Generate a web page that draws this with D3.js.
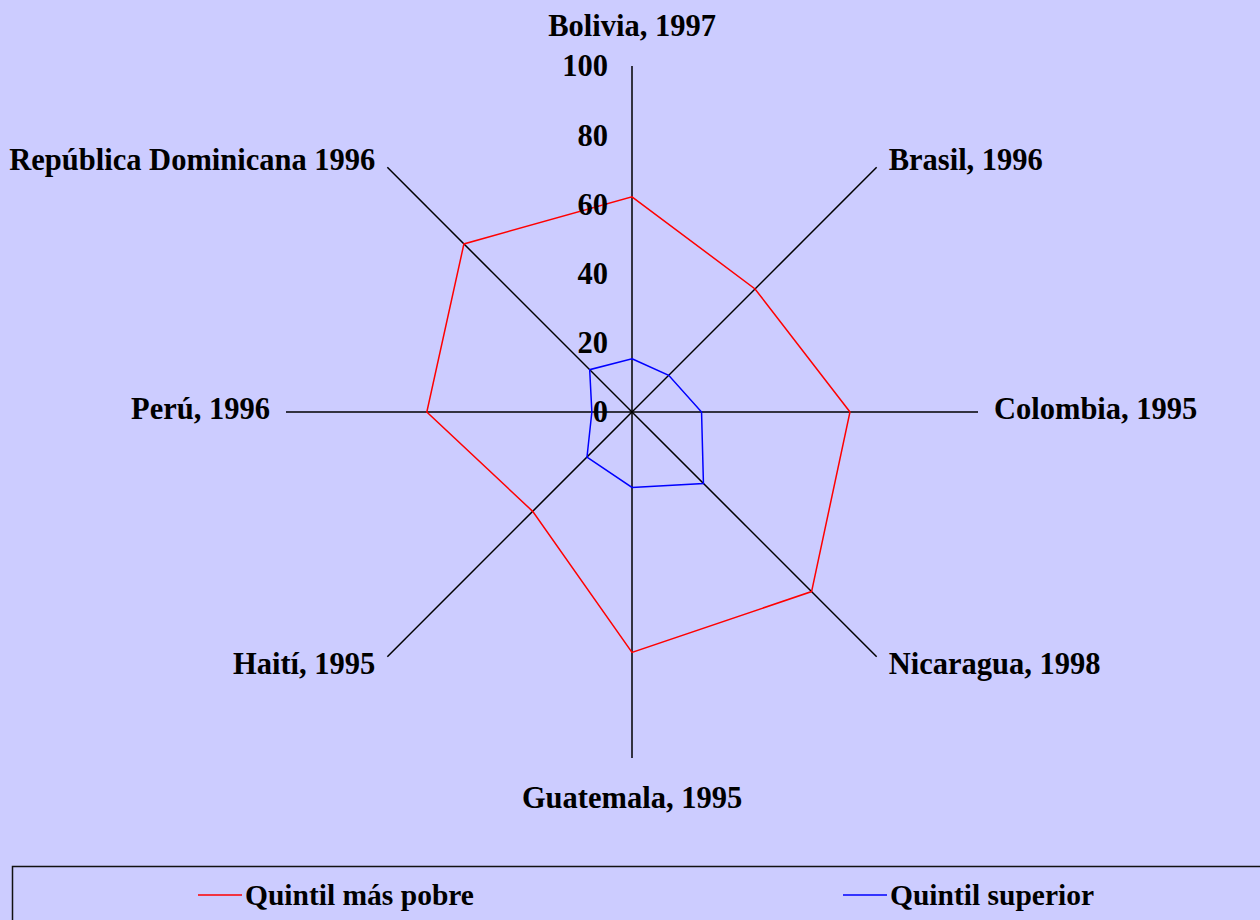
<!DOCTYPE html>
<html>
<head>
<meta charset="utf-8">
<script src="https://cdn.jsdelivr.net/npm/d3@7"></script>
<style>
  html, body { margin: 0; padding: 0; background: #ccccff; }
  svg { display: block; }
  text { font-family: "Liberation Serif", "Times New Roman", serif; font-weight: bold; fill: #000; }
</style>
</head>
<body>
<div id="chart"></div>
<script>
// donnees
const countries = ["Bolivia, 1997", "Brasil, 1996", "Colombia, 1995", "Nicaragua, 1998",
  "Guatemala, 1995", "Haití, 1995", "Perú, 1996", "República Dominicana 1996"];
const poorest = [62.2, 50.3, 63.0, 73.4, 69.5, 40.6, 59.3, 68.7];
const richest = [15.4, 15.0, 20.1, 29.2, 21.8, 18.4, 11.6, 17.3];
const ticks = [0, 20, 40, 60, 80, 100];
const seriesNames = ["Quintil más pobre", "Quintil superior"];

const width = 1260, height = 920;
const cx = 632, cy = 412, R = 346;
const fontSize = 30.5;

const svg = d3.select("#chart").append("svg")
  .attr("width", width)
  .attr("height", height);

svg.append("rect").attr("width", width).attr("height", height).attr("fill", "#ccccff");

const r = d3.scaleLinear().domain([0, 100]).range([0, R]);
const angle = d3.scalePoint().domain(d3.range(countries.length + 1)).range([0, 2 * Math.PI]);

const g = svg.append("g").attr("transform", `translate(${cx},${cy})`);

// axes
g.selectAll("line.axis")
  .data(countries)
  .join("line")
  .attr("class", "axis")
  .attr("x1", 0).attr("y1", 0)
  .attr("x2", (d, i) => r(100) * Math.sin(angle(i)))
  .attr("y2", (d, i) => -r(100) * Math.cos(angle(i)))
  .attr("stroke", "#000")
  .attr("stroke-width", 1.5);

// series
const radial = d3.lineRadial()
  .angle((d, i) => angle(i))
  .radius(d => r(d))
  .curve(d3.curveLinearClosed);

g.append("path").datum(poorest)
  .attr("d", radial)
  .attr("fill", "none").attr("stroke", "#ff0000").attr("stroke-width", 1.5);
g.append("path").datum(richest)
  .attr("d", radial)
  .attr("fill", "none").attr("stroke", "#0000ff").attr("stroke-width", 1.5);

// etiquettes de l'axe
g.selectAll("text.tick")
  .data(ticks)
  .join("text")
  .attr("class", "tick")
  .attr("x", -24)
  .attr("y", d => -r(d))
  .attr("dy", "0.34em")
  .attr("text-anchor", "end")
  .style("font-size", fontSize + "px")
  .text(d => d);

// noms des pays
g.selectAll("text.country")
  .data(countries)
  .join("text")
  .attr("class", "country")
  .style("font-size", fontSize + "px")
  .each(function (d, i) {
    const a = angle(i), s = Math.sin(a), c = Math.cos(a);
    const t = d3.select(this);
    if (Math.abs(s) < 0.1) {
      const y = c > 0 ? -r(100) - 30 : r(100) + 50;
      t.attr("x", 0).attr("y", y).attr("text-anchor", "middle");
    } else {
      const pad = Math.abs(c) < 0.1 ? 16 : 17;
      const x = (R + pad) * s, y = -(R + pad) * c;
      let dy = 7;
      if (Math.abs(c) > 0.1) dy = c > 0 ? 15 : 5;
      t.attr("x", x).attr("y", y + dy).attr("text-anchor", s > 0 ? "start" : "end");
    }
  })
  .text(d => d);

// legende
svg.append("rect")
  .attr("x", 12.5).attr("y", 866.5)
  .attr("width", 1260).attr("height", 80)
  .attr("fill", "none").attr("stroke", "#111").attr("stroke-width", 1.5);

const legendX = [198, 843];
const legendColors = ["#ff0000", "#0000ff"];
const legend = svg.selectAll("g.legend")
  .data(seriesNames)
  .join("g")
  .attr("class", "legend")
  .attr("transform", (d, i) => `translate(${legendX[i]},895)`);
legend.append("line")
  .attr("x1", 0).attr("x2", 44)
  .attr("stroke", (d, i) => legendColors[i]).attr("stroke-width", 1.5);
legend.append("text")
  .attr("x", 47).attr("dy", "0.34em")
  .style("font-size", "29.5px")
  .text(d => d);
</script>
</body>
</html>
